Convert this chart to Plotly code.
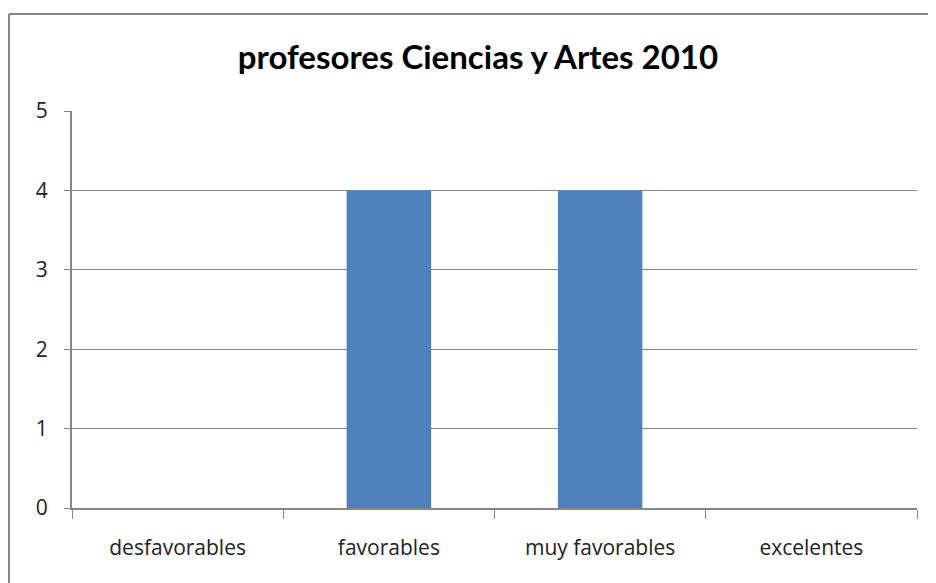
import plotly.graph_objects as go

categories = ["desfavorables", "favorables", "muy favorables", "excelentes"]
values = [0, 4, 4, 0]
y_ticks = [0, 1, 2, 3, 4, 5]
title_text = "profesores Ciencias y Artes 2010"

# page body has an 8px margin; figure sized so it fills the window
W, H = 928, 575
ML, MR, MT, MB = 64, 19, 103, 75
PW, PH = W - ML - MR, H - MT - MB

def px_x(px):
    return (px - ML) / PW

def px_y(py):
    return (H - MB - py) / PH

grey = "#868686"
tick_font = dict(family="Open Sans", size=21, color="#222222")

fig = go.Figure(go.Bar(x=categories, y=values, marker_color="#4F81BD",
                       marker_line_width=0))

fig.update_layout(
    width=W, height=H,
    margin=dict(l=ML, r=MR, t=MT, b=MB),
    paper_bgcolor="white", plot_bgcolor="white",
    bargap=0.6,
    showlegend=False,
    font=tick_font,
    title=dict(text=title_text, x=470 / W, xanchor="center",
               y=1 - 49 / H, yanchor="middle",
               font=dict(family="Lato", size=33, color="black", weight="bold")),
    xaxis=dict(showline=True, linecolor=grey, linewidth=2, ticks="outside",
               tickson="boundaries", ticklen=9, tickcolor=grey, tickwidth=1,
               showgrid=False, ticklabelstandoff=20, tickfont=tick_font),
    yaxis=dict(range=[0, 5], tickvals=y_ticks, showline=True, linecolor=grey,
               linewidth=2, ticks="outside", ticklen=6, tickcolor=grey,
               tickwidth=1, showgrid=True, gridcolor=grey, gridwidth=1,
               zeroline=False, ticklabelstandoff=12, tickfont=tick_font),
    shapes=[
        dict(type="line", xref="paper", yref="paper", x0=px_x(1), x1=px_x(1),
             y0=px_y(6), y1=px_y(600), line=dict(color=grey, width=2)),
        dict(type="line", xref="paper", yref="paper", x0=px_x(1), x1=px_x(940),
             y0=px_y(6), y1=px_y(6), line=dict(color=grey, width=2)),
    ],
)

fig.write_html("out.html")
